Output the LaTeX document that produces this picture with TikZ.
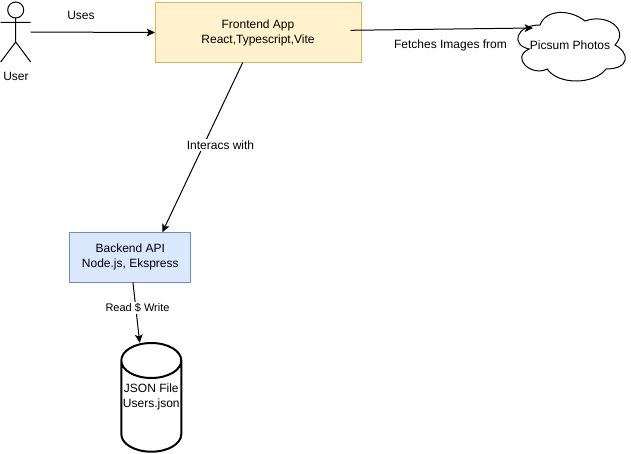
\documentclass[tikz,border=0pt]{standalone}
\usepackage{fontspec}
\setmainfont{Liberation Sans}
\usetikzlibrary{arrows.meta}
\definecolor{appfill}{HTML}{FFF2CC}
\definecolor{appline}{HTML}{D6B656}
\definecolor{apifill}{HTML}{DAE8FC}
\definecolor{apiline}{HTML}{6C8EBF}
\tikzset{
  flow/.style={draw=black, line width=0.75pt, -{Stealth[length=6.2pt,width=5.8pt,inset=1.4pt]}},
  box/.style={draw, line width=0.75pt, inner sep=0pt, outer sep=0pt, minimum width=154.5pt, minimum height=45pt, align=center, font=\fontsize{9}{11.25}\selectfont},
  tag/.style={inner sep=1pt, align=center, font=\fontsize{9}{11.25}\selectfont},
  edgetag/.style={inner sep=1pt, fill=white, font=\fontsize{8.25}{10}\selectfont}
}
\begin{document}
\begin{tikzpicture}[x=0.75pt,y=-0.75pt]
  \useasboundingbox (0,0) rectangle (631,453);

  % actor
  \node[minimum width=22.5pt, minimum height=45pt, inner sep=0pt, outer sep=0pt] (user) at (15.7,32) {};
  \draw[line width=0.75pt] (15.7,10) circle (6pt);
  \draw[line width=0.75pt] (15.7,18) -- (15.7,42) (user.west |- 0,22.3) -- (user.east |- 0,22.3)
    (user.south west) -- (15.7,42) -- (user.south east);
  \node[tag] (userlabel) at (16,76) {User};

  % boxes
  \node[box, fill=appfill, draw=appline] (frontend) at (258,32.5) {Frontend App\\React,Typescript,Vite};
  \node[box, fill=apifill, draw=apiline, minimum width=90.5pt, minimum height=37.5pt] (backend) at (130.3,257.3) {Backend API\\Node.js, Ekspress};

  % cloud
  \draw[line width=0.75pt, fill=white]
    (540,25) .. controls (516,25) and (510,45) .. (529.2,49)
    .. controls (510,57.8) and (531.6,77) .. (547.2,69)
    .. controls (558,85) and (594,85) .. (606,69)
    .. controls (630,69) and (630,53) .. (615,45)
    .. controls (630,29) and (606,13) .. (585,21)
    .. controls (570,9) and (546,9) .. (540,25) -- cycle;
  \node[tag] (picsum) at (570,45) {Picsum Photos};
  \coordinate (cloudin) at (533,28);
  \coordinate (frontout) at (350.5,30.3);

  % database
  \draw[line width=1.5pt, fill=white]
    (121.3,360.5) .. controls (121.3,350.8) and (134.7,343) .. (151.3,343)
    .. controls (167.9,343) and (181.3,350.8) .. (181.3,360.5)
    -- (181.3,434.2) .. controls (181.3,443.9) and (167.9,451.7) .. (151.3,451.7)
    .. controls (134.7,451.7) and (121.3,443.9) .. (121.3,434.2) -- cycle
    (121.3,360.5) .. controls (121.3,370.2) and (134.7,378) .. (151.3,378)
    .. controls (167.9,378) and (181.3,370.2) .. (181.3,360.5);
  \node[tag, minimum width=45pt, minimum height=81.75pt, inner sep=0pt, outer sep=0pt] (jsonfile) at (151.3,397.35) {JSON File\\Users.json};

  % connectors
  \draw[flow] (user.east) -- (frontend.west);
  \draw[flow] (frontout) -- (cloudin);
  \draw[flow] (frontend.243.4) -- (backend.38.3);
  \draw[flow] (backend.276.8) -- (jsonfile.102.7);

  \node[tag] (useslabel) at (81,15) {Uses};
  \node[tag] (fetchlabel) at (450.5,45) {Fetches Images from};
  \node[edgetag, font=\fontsize{9}{11.25}\selectfont] (interlabel) at (220.5,145) {Interacs with};
  \node[edgetag] (rwlabel) at (137.5,308) {Read \$ Write};
\end{tikzpicture}
\end{document}
